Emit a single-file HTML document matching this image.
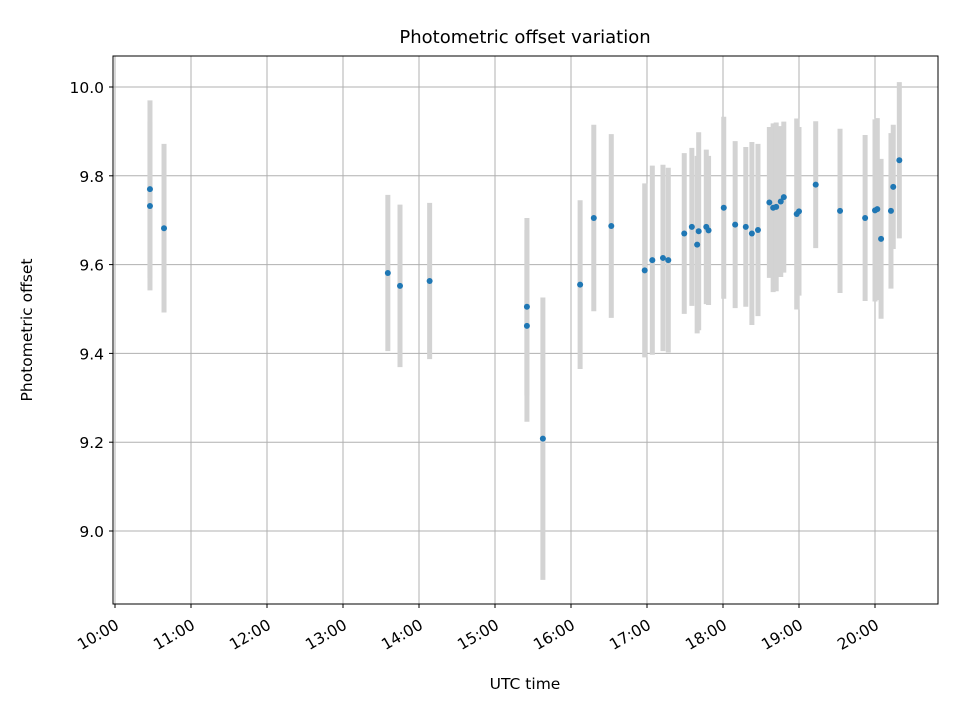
<!DOCTYPE html>
<html><head><meta charset="utf-8"><style>
body{margin:0;background:#fff;font-family:"Liberation Sans","DejaVu Sans",sans-serif}
</style></head><body>
<svg id="chart" width="960" height="720" xmlns="http://www.w3.org/2000/svg" font-family="DejaVu Sans, Liberation Sans, sans-serif">
<rect width="960" height="720" fill="#fff"/>
<g id="grid"></g><g id="bars"></g><g id="pts"></g><g id="axes"></g>
<text x="525" y="43" text-anchor="middle" font-size="18">Photometric offset variation</text>
<text x="525" y="689" text-anchor="middle" font-size="15.5">UTC time</text>
<text transform="translate(32,330) rotate(-90)" text-anchor="middle" font-size="15.5">Photometric offset</text>
</svg>
<script>
const times=[10.46,10.46,10.645,13.59,13.75,14.14,15.42,15.42,15.63,16.12,16.30,16.53,16.97,17.07,17.21,17.28,17.49,17.59,17.66,17.68,17.78,17.81,18.01,18.16,18.30,18.38,18.46,18.61,18.66,18.70,18.76,18.80,18.97,19.00,19.22,19.54,19.87,20.00,20.03,20.08,20.21,20.24,20.32];
const offsets=[9.770,9.732,9.682,9.581,9.552,9.563,9.505,9.462,9.208,9.555,9.705,9.687,9.587,9.610,9.615,9.610,9.670,9.685,9.645,9.675,9.685,9.677,9.728,9.690,9.685,9.670,9.678,9.740,9.728,9.730,9.742,9.752,9.714,9.720,9.780,9.721,9.705,9.722,9.725,9.658,9.721,9.775,9.835];
const errors=[0.20,0.19,0.19,0.176,0.183,0.176,0.20,0.216,0.318,0.19,0.21,0.207,0.196,0.213,0.21,0.208,0.181,0.178,0.20,0.223,0.174,0.168,0.205,0.188,0.18,0.206,0.194,0.17,0.19,0.19,0.17,0.17,0.215,0.19,0.143,0.185,0.187,0.205,0.205,0.18,0.175,0.14,0.176];
const yTicks=[9.0,9.2,9.4,9.6,9.8,10.0];
const xTicks=[10,11,12,13,14,15,16,17,18,19,20];
const L=113,R=938,T=56,B=604;
const X=h=>115+(h-10)*76;
const Y=v=>87+(10-v)*444;
const NS="http://www.w3.org/2000/svg";
function mk(tag,attrs,parent){const e=document.createElementNS(NS,tag);for(const k in attrs)e.setAttribute(k,attrs[k]);document.getElementById(parent).appendChild(e);return e;}
yTicks.forEach(v=>{
 const g=mk('line',{x1:L,x2:R,y1:Y(v),y2:Y(v),stroke:'#b0b0b0','stroke-width':1},'grid');
 
 
 mk('line',{x1:L-4,x2:L,y1:Y(v),y2:Y(v),stroke:'#000'},'axes');
 const t=mk('text',{x:L-9,y:Y(v)+6,'text-anchor':'end','font-size':15.5},'axes');
 t.textContent=v.toFixed(1);
 
 
});
xTicks.forEach(h=>{
 const g=mk('line',{x1:X(h),x2:X(h),y1:T,y2:B,stroke:'#b0b0b0','stroke-width':1},'grid');
 
 
 mk('line',{x1:X(h),x2:X(h),y1:B,y2:B+4,stroke:'#000'},'axes');
 const t=mk('text',{x:X(h)+5,y:B+24,'text-anchor':'end','font-size':15.5,transform:`rotate(-30 ${X(h)+5} ${B+24})`},'axes');
 t.textContent=h+':00';
 
 
});
times.forEach((h,i)=>{
 const b=mk('line',{x1:X(h),x2:X(h),y1:Y(offsets[i]+errors[i]),y2:Y(offsets[i]-errors[i]),stroke:'#d3d3d3','stroke-width':5},'bars');
 
 
});
times.forEach((h,i)=>{
 const c=mk('circle',{cx:X(h),cy:Y(offsets[i]),r:3,fill:'#1f77b4'},'pts');
 
 
});
const f=mk('rect',{x:L,y:T,width:R-L,height:B-T,fill:'none',stroke:'#000','stroke-width':1},'axes');


</script>
</body></html>
